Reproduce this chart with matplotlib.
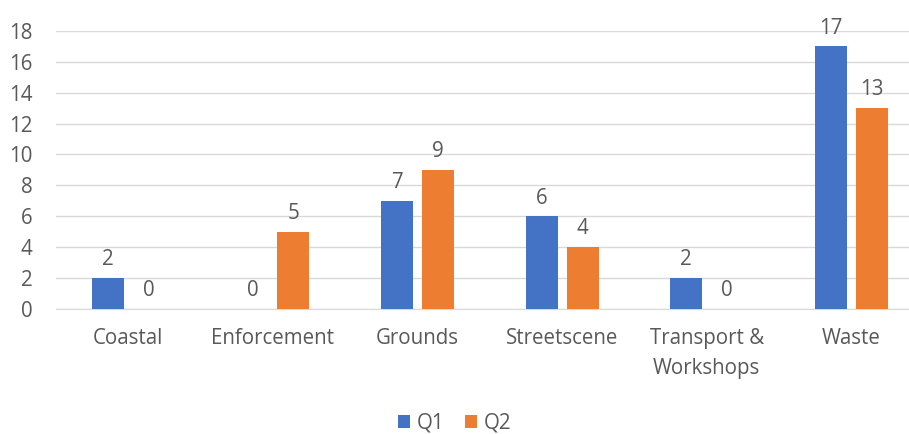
import numpy as np
import matplotlib.pyplot as plt

plt.rcParams['font.family'] = ['Open Sans', 'DejaVu Sans']

categories = ['Coastal', 'Enforcement', 'Grounds', 'Streetscene', 'Transport &\nWorkshops', 'Waste']
q1 = [2, 0, 7, 6, 2, 17]
q2 = [0, 5, 9, 4, 0, 13]

c_q1 = '#4472C4'
c_q2 = '#ED7D31'
txt = '#595959'
fs = 14.8

fig = plt.figure(figsize=(9.09, 4.34), dpi=100)
# plot area runs past the right edge, as in the source image
ax = fig.add_axes([0.0616, 0.288, 0.9545, 0.641])

x = np.arange(len(categories))
w = 0.222
off = 0.142
b1 = ax.bar(x - off, q1, w, color=c_q1, label='Q1', zorder=3)
b2 = ax.bar(x + off, q2, w, color=c_q2, label='Q2', zorder=3)

for bars, vals in ((b1, q1), (b2, q2)):
    for b, v in zip(bars, vals):
        ax.text(b.get_x() + b.get_width() / 2, v + 0.5, str(v),
                ha='center', va='bottom', fontsize=fs, color=txt)

ax.set_xlim(-0.5, len(categories) - 0.5)
ax.set_ylim(0, 18)
ax.set_yticks(range(0, 19, 2))
ax.set_xticks(x)
ax.set_xticklabels(categories, linespacing=1.56)
ax.tick_params(axis='both', length=0, labelsize=fs, labelcolor=txt)
ax.tick_params(axis='x', pad=14)
ax.tick_params(axis='y', pad=17)
ax.grid(axis='y', color='#D9D9D9', linewidth=1, zorder=0)
for s in ['top', 'right', 'left']:
    ax.spines[s].set_visible(False)
ax.spines['bottom'].set_color('#D9D9D9')

leg = fig.legend(handles=[b1, b2], labels=['Q1', 'Q2'], loc='center',
                 bbox_to_anchor=(0.5, 0.025), ncol=2, frameon=False,
                 fontsize=fs, handlelength=0.6, handleheight=0.6,
                 handletextpad=0.3, columnspacing=1.0)
for t in leg.get_texts():
    t.set_color(txt)

fig.savefig('out.png', dpi=100)
